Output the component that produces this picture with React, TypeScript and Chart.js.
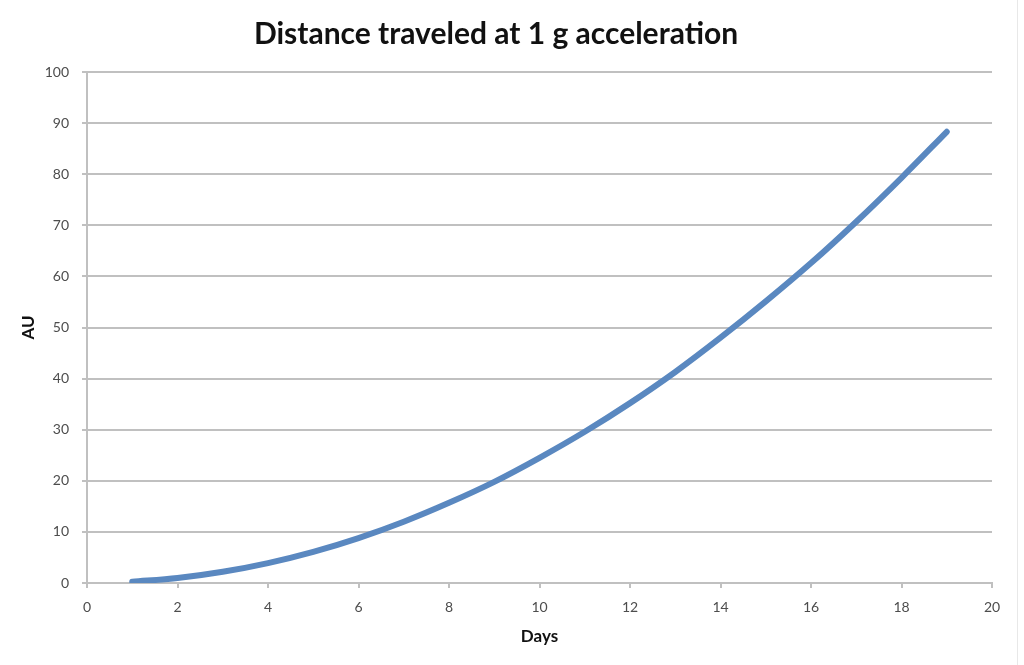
import React, { useEffect, useRef } from "react";
import { Chart, registerables } from "chart.js";

Chart.register(...registerables);

const days = [1, 2, 3, 4, 5, 6, 7, 8, 9, 10, 11, 12, 13, 14, 15, 16, 17, 18, 19];
const distanceAU = [0.24, 0.98, 2.2, 3.9, 6.1, 8.8, 12.0, 15.7, 19.8, 24.5, 29.6, 35.2, 41.3, 48.0, 55.1, 62.6, 70.7, 79.3, 88.3];
const titleText = "Distance traveled at 1 g acceleration";
const xTitle = "Days";
const yTitle = "AU";

const FONT = "Lato, 'Open Sans', sans-serif";
const GRID = "#c0c0c0";
const TICK = "#4d4d4d";

export default function App() {
  const ref = useRef<HTMLCanvasElement | null>(null);
  useEffect(() => {
    if (!ref.current) return;
    const chart = new Chart(ref.current, {
      type: "line",
      data: {
        datasets: [
          {
            data: days.map((d, i) => ({ x: d, y: distanceAU[i] })),
            borderColor: "#5a88c0",
            borderWidth: 6,
            borderCapStyle: "round",
            pointRadius: 0,
            tension: 0.4,
            cubicInterpolationMode: "monotone",
            fill: false,
          },
        ],
      },
      options: {
        animation: false,
        responsive: false,
        maintainAspectRatio: false,
        layout: { padding: { left: 0, right: 32, top: 16, bottom: 0 } },
        plugins: {
          legend: { display: false },
          tooltip: { enabled: false },
          title: {
            display: true,
            text: titleText,
            color: "#111",
            font: { family: FONT, size: 30, weight: "bold" },
            padding: { top: 0, bottom: 20 },
          },
        },
        scales: {
          x: {
            type: "linear",
            min: 0,
            max: 20,
            ticks: { stepSize: 2, color: TICK, font: { family: FONT, size: 14 }, padding: 11, maxRotation: 0 },
            grid: { display: true, drawOnChartArea: false, drawTicks: true, tickLength: 5, color: GRID, lineWidth: 2 },
            border: { display: true, color: GRID, width: 2 },
            title: { display: true, text: xTitle, color: "#111", font: { family: FONT, size: 17, weight: "bold" }, padding: { top: 0, bottom: 18 } },
            afterFit: (s: any) => { s.height = 82; },
          },
          y: {
            min: 0,
            max: 100,
            ticks: { stepSize: 10, color: TICK, font: { family: FONT, size: 14 }, padding: 13 },
            grid: { display: true, drawOnChartArea: true, drawTicks: true, tickLength: 5, color: GRID, lineWidth: 2 },
            border: { display: true, color: GRID, width: 2 },
            title: { display: true, text: yTitle, color: "#111", font: { family: FONT, size: 17, weight: "bold" }, padding: { top: 18, bottom: 0 } },
            afterFit: (s: any) => { s.width = 87; },
          },
        },
      },
    });
    return () => chart.destroy();
  }, []);
  return (
    <div style={{ position: "absolute", left: 0, top: 0, width: 1024, height: 665, background: "#fff" }}>
      <canvas ref={ref} width={1024} height={665} style={{ display: "block" }} />
      <div style={{ position: "absolute", left: 1017, top: 0, width: 1, height: 665, background: "#e8e8e8" }} />
    </div>
  );
}
